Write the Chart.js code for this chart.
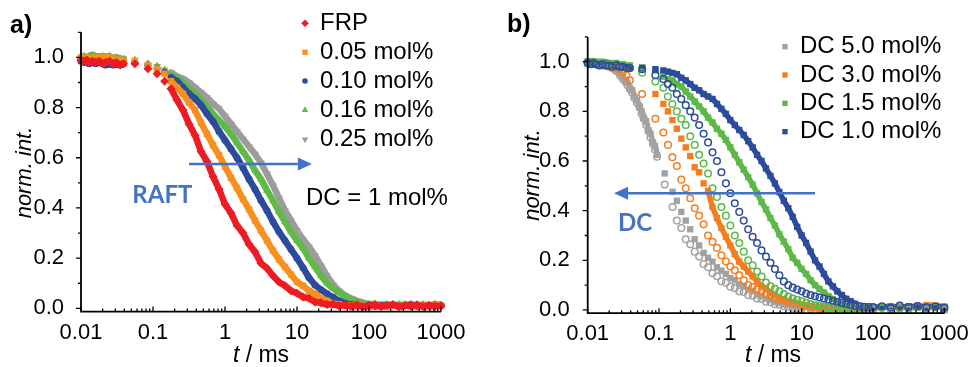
<!DOCTYPE html>
<html>
<head>
<meta charset="utf-8">
<title>Normalized intensity decays</title>
<script src="https://cdn.jsdelivr.net/npm/chart.js@4.4.1/dist/chart.umd.min.js"></script>
<style>
  html, body { margin: 0; padding: 0; background: #fff; }
  #wrap { position: relative; width: 972px; height: 367px; overflow: hidden; background: #fff; }
  canvas { position: absolute; top: 0; }
  #panelA { left: 0; }
  #panelB { left: 486px; }
</style>
</head>
<body>
<div id="wrap">
  <canvas id="panelA" width="486" height="367"></canvas>
  <canvas id="panelB" width="486" height="367"></canvas>
</div>
<script>
// ---------- panel a: RAFT agent content at DC = 1 mol% ----------
const tA = [0.010, 0.011, 0.012, 0.013, 0.0145, 0.016, 0.018, 0.020, 0.022, 0.025, 0.028, 0.031, 0.035, 0.039,
  0.056, 0.085, 0.114, 0.145, 0.178,
  0.2154, 0.261, 0.3162, 0.3831, 0.4642, 0.5623, 0.6813, 0.8254, 1, 1.212, 1.468, 1.778, 2.154, 2.61, 3.162,
  3.831, 4.642, 5.623, 6.813, 8.254, 10, 12.12, 14.68, 17.78, 21.54, 26.1, 31.62, 38.31, 46.42, 56.23, 68.13,
  82.54, 100, 121.2, 146.8, 177.8, 215.4, 261, 316.2, 383.1, 464.2, 562.3, 681.3, 825.4, 1000];

const frp = [0.99, 0.985, 0.99, 0.98, 0.985, 0.98, 0.985, 0.975, 0.98, 0.985, 0.975, 0.98, 0.97, 0.975,
  0.975, 0.955, 0.935, 0.905, 0.875,
  0.83, 0.79, 0.735, 0.69, 0.625, 0.585, 0.525, 0.475, 0.415, 0.38, 0.33, 0.3, 0.255, 0.225, 0.18,
  0.16, 0.13, 0.105, 0.09, 0.07, 0.06, 0.045, 0.04, 0.025, 0.022, 0.015, 0.016, 0.01, 0.012, 0.008, 0.014,
  0.006, 0.01, 0.013, 0.007, 0.011, 0.015, 0.006, 0.012, 0.009, 0.014, 0.007, 0.012, 0.008, 0.01];

const mol005 = [1.0, 0.995, 1.0, 0.99, 0.995, 1.0, 0.995, 1.0, 1.005, 1.0, 0.995, 0.99, 0.99, 0.985,
  0.985, 0.97, 0.955, 0.935, 0.905,
  0.88, 0.855, 0.82, 0.79, 0.74, 0.695, 0.65, 0.61, 0.565, 0.52, 0.48, 0.435, 0.395, 0.35, 0.31,
  0.27, 0.23, 0.195, 0.165, 0.135, 0.105, 0.09, 0.07, 0.058, 0.04, 0.03, 0.018, 0.016, 0.01, 0.012, 0.008,
  0.011, 0.007, 0.012, 0.009, 0.006, 0.011, 0.008, 0.013, 0.007, 0.01, 0.012, 0.008, 0.014, 0.01];

const mol010 = [0.985, 0.98, 0.985, 0.975, 0.98, 0.975, 0.98, 0.975, 0.97, 0.975, 0.97, 0.975, 0.97, 0.975,
  0.98, 0.97, 0.955, 0.94, 0.92,
  0.905, 0.88, 0.855, 0.835, 0.81, 0.775, 0.745, 0.705, 0.67, 0.635, 0.6, 0.56, 0.515, 0.475, 0.43,
  0.39, 0.345, 0.305, 0.27, 0.235, 0.2, 0.162, 0.122, 0.093, 0.074, 0.058, 0.044, 0.03, 0.02, 0.015, 0.011,
  0.01, 0.013, 0.008, 0.011, 0.009, 0.012, 0.007, 0.01, 0.013, 0.008, 0.011, 0.009, 0.014, 0.01];

const mol016 = [1.0, 1.005, 1.0, 1.005, 1.01, 1.005, 1.0, 1.005, 1.0, 1.005, 0.995, 1.0, 0.995, 0.99,
  0.99, 0.975, 0.965, 0.95, 0.93,
  0.92, 0.9, 0.875, 0.855, 0.83, 0.805, 0.775, 0.75, 0.725, 0.695, 0.66, 0.625, 0.59, 0.55, 0.515,
  0.47, 0.43, 0.385, 0.345, 0.305, 0.27, 0.24, 0.2, 0.165, 0.13, 0.1, 0.08, 0.062, 0.048, 0.036, 0.026,
  0.02, 0.015, 0.018, 0.012, 0.016, 0.011, 0.015, 0.013, 0.017, 0.012, 0.015, 0.011, 0.016, 0.013];

const mol025 = [1.0, 0.995, 1.0, 1.0, 0.995, 1.0, 1.005, 1.0, 0.995, 1.0, 1.0, 0.995, 0.99, 0.995,
  0.99, 0.97, 0.965, 0.95, 0.94,
  0.925, 0.915, 0.9, 0.88, 0.86, 0.84, 0.815, 0.795, 0.765, 0.735, 0.705, 0.675, 0.645, 0.615, 0.58,
  0.535, 0.49, 0.44, 0.39, 0.35, 0.31, 0.275, 0.245, 0.21, 0.17, 0.13, 0.095, 0.07, 0.052, 0.04, 0.03,
  0.023, 0.017, 0.013, 0.015, 0.011, 0.014, 0.01, 0.012, 0.015, 0.01, 0.013, 0.011, 0.014, 0.012];

const labelsA = ['FRP', '0.05 mol%', '0.10 mol%', '0.16 mol%', '0.25 mol%'];

// ---------- panel b: crosslinker (DC) content ----------
const tB = [0.010, 0.011, 0.012, 0.013, 0.0145, 0.016, 0.018, 0.020, 0.022, 0.025, 0.028, 0.031, 0.035, 0.039,
  0.058, 0.089, 0.115,
  0.1334, 0.154, 0.1778, 0.2054, 0.2371, 0.2738, 0.3162, 0.3652, 0.4217, 0.487, 0.5623, 0.6494, 0.7499, 0.866,
  1, 1.155, 1.334, 1.54, 1.778, 2.054, 2.371, 2.738, 3.162, 3.652, 4.217, 4.87, 5.623, 6.494, 7.499, 8.66,
  10, 11.55, 13.34, 15.4, 17.78, 20.54, 23.71, 27.38, 31.62, 36.52, 42.17, 48.7, 56.23, 64.94, 74.99, 86.6, 100,
  133.4, 177.8, 237.1, 316.2, 421.7, 562.3, 749.9, 1000];

// time grid of the DC 5.0 mol% runs (finer at short times)
const tB50 = [0.010, 0.011, 0.012, 0.013, 0.0145, 0.016, 0.018, 0.020, 0.022, 0.0245, 0.0265, 0.0285, 0.031, 0.0335,
  0.036, 0.039, 0.042, 0.045, 0.049, 0.053, 0.057, 0.061, 0.066, 0.071, 0.076, 0.082, 0.088, 0.094,
  0.12, 0.155,
  0.1778, 0.2054, 0.2371, 0.2738, 0.3162, 0.3652, 0.4217, 0.487, 0.5623, 0.6494, 0.7499, 0.866, 1, 1.155, 1.334,
  1.54, 1.778, 2.054, 2.371, 2.738, 3.162, 3.652, 4.217, 4.87, 5.623, 6.494, 7.499, 8.66, 10,
  13.34, 17.78, 23.71, 31.62, 42.17, 56.23, 74.99, 100, 177.8, 316.2, 562.3, 1000];

const dc50Sq = [1.0, 0.995, 1.0, 0.99, 0.995, 0.985, 0.99, 0.98, 0.98, 0.97, 0.965, 0.95, 0.94, 0.92,
  0.915, 0.895, 0.885, 0.86, 0.845, 0.815, 0.8, 0.775, 0.76, 0.725, 0.71, 0.675, 0.66, 0.625,
  0.55, 0.476,
  0.44, 0.395, 0.36, 0.325, 0.285, 0.26, 0.23, 0.21, 0.195, 0.172, 0.158, 0.145, 0.128, 0.12, 0.103,
  0.096, 0.082, 0.076, 0.062, 0.056, 0.046, 0.041, 0.032, 0.029, 0.022, 0.02, 0.015, 0.013, 0.009,
  0.006, 0.004, 0.003, 0.002, 0.001, 0.002, 0.0, 0.001, 0.0, 0.002, 0.001, 0.0];

const dc50Ci = [0.995, 1.0, 0.99, 0.995, 0.99, 0.99, 0.985, 0.985, 0.975, 0.965, 0.96, 0.945, 0.93, 0.925,
  0.905, 0.89, 0.875, 0.855, 0.835, 0.82, 0.79, 0.77, 0.745, 0.72, 0.695, 0.67, 0.645, 0.617,
  0.505, 0.415,
  0.36, 0.33, 0.285, 0.265, 0.235, 0.215, 0.185, 0.172, 0.148, 0.136, 0.116, 0.11, 0.094, 0.088, 0.075,
  0.072, 0.06, 0.057, 0.046, 0.044, 0.033, 0.031, 0.023, 0.021, 0.015, 0.013, 0.009, 0.008, 0.004,
  0.003, 0.002, 0.001, 0.0, 0.001, 0.0, 0.001, 0.0, 0.0, 0.001, 0.0, 0.0];

const dc30Sq = [0.995, 1.0, 0.995, 0.99, 0.995, 0.99, 0.995, 0.99, 0.99, 0.985, 0.985, 0.98, 0.98, 0.975,
  0.97, 0.87, 0.83,
  0.8, 0.765, 0.73, 0.69, 0.655, 0.62, 0.575, 0.555, 0.51, 0.48, 0.415, 0.37, 0.33, 0.295,
  0.26, 0.225, 0.195, 0.175, 0.155, 0.135, 0.115, 0.095, 0.085, 0.07, 0.06, 0.048, 0.042, 0.036, 0.03, 0.024,
  0.018, 0.014, 0.011, 0.008, 0.01, 0.007, 0.009, 0.006, 0.01, 0.008, 0.007, 0.011, 0.009, 0.006, 0.01, 0.008, 0.009,
  0.01, 0.012, 0.008, 0.015, 0.011, 0.02, 0.018, 0.013];

const dc30Ci = [0.995, 0.99, 0.995, 0.99, 0.99, 0.985, 0.985, 0.98, 0.98, 0.975, 0.97, 0.96, 0.945, 0.925,
  0.87, 0.77, 0.715,
  0.665, 0.615, 0.58, 0.525, 0.49, 0.45, 0.41, 0.38, 0.345, 0.3, 0.275, 0.25, 0.22, 0.195,
  0.175, 0.16, 0.14, 0.12, 0.1, 0.092, 0.083, 0.074, 0.065, 0.056, 0.048, 0.043, 0.038, 0.033, 0.028, 0.023,
  0.019, 0.016, 0.013, 0.011, 0.01, 0.008, 0.006, 0.009, 0.005, 0.007, 0.008, 0.006, 0.009, 0.007, 0.005, 0.008, 0.007,
  0.008, 0.012, 0.006, 0.01, 0.014, 0.009, 0.011, 0.007];

const dc15Sq = [1.0, 0.995, 1.0, 1.0, 0.995, 1.0, 0.995, 0.995, 0.99, 0.995, 0.99, 0.99, 0.985, 0.985,
  0.977, 0.965, 0.94,
  0.93, 0.925, 0.91, 0.9, 0.88, 0.86, 0.84, 0.82, 0.8, 0.775, 0.755, 0.73, 0.71, 0.685,
  0.655, 0.625, 0.595, 0.565, 0.535, 0.505, 0.47, 0.435, 0.405, 0.37, 0.34, 0.305, 0.275, 0.245, 0.21, 0.19,
  0.165, 0.145, 0.12, 0.1, 0.085, 0.07, 0.056, 0.044, 0.033, 0.023, 0.017, 0.013, 0.01, 0.012, 0.009, 0.011, 0.01,
  0.012, 0.01, 0.014, 0.011, 0.009, 0.013, 0.016, 0.012];

const dc15Ci = [1.0, 0.995, 1.0, 0.995, 0.995, 0.99, 0.995, 0.99, 0.99, 0.985, 0.985, 0.98, 0.98, 0.975,
  0.956, 0.92, 0.895,
  0.86, 0.83, 0.8, 0.77, 0.745, 0.7, 0.665, 0.625, 0.59, 0.55, 0.49, 0.455, 0.415, 0.38,
  0.34, 0.3, 0.27, 0.235, 0.2, 0.18, 0.155, 0.135, 0.11, 0.095, 0.085, 0.075, 0.064, 0.054, 0.046, 0.041,
  0.035, 0.029, 0.024, 0.019, 0.016, 0.014, 0.011, 0.009, 0.012, 0.008, 0.01, 0.011, 0.007, 0.01, 0.009, 0.012, 0.008,
  0.01, 0.013, 0.008, 0.011, 0.015, 0.009, 0.012, 0.01];

const dc10Sq = [0.995, 1.0, 0.995, 0.99, 0.995, 0.99, 0.995, 0.99, 0.985, 0.99, 0.985, 0.98, 0.98, 0.975,
  0.975, 0.97, 0.965,
  0.96, 0.955, 0.95, 0.935, 0.925, 0.91, 0.895, 0.885, 0.87, 0.86, 0.85, 0.83, 0.81, 0.79,
  0.765, 0.745, 0.725, 0.705, 0.68, 0.655, 0.625, 0.6, 0.57, 0.54, 0.51, 0.475, 0.44, 0.41, 0.375, 0.335,
  0.3, 0.27, 0.235, 0.2, 0.175, 0.145, 0.115, 0.095, 0.075, 0.06, 0.045, 0.035, 0.025, 0.017, 0.012, 0.01, 0.011,
  0.012, 0.015, 0.01, 0.013, 0.016, 0.011, 0.014, 0.012];

const dc10Ci = [0.995, 0.99, 0.995, 0.99, 0.985, 0.99, 0.985, 0.985, 0.98, 0.985, 0.98, 0.98, 0.975, 0.975,
  0.97, 0.946, 0.93,
  0.91, 0.895, 0.87, 0.85, 0.825, 0.8, 0.775, 0.745, 0.71, 0.675, 0.635, 0.6, 0.555, 0.51,
  0.47, 0.43, 0.395, 0.36, 0.325, 0.295, 0.27, 0.24, 0.215, 0.19, 0.165, 0.14, 0.115, 0.1, 0.09, 0.082,
  0.075, 0.066, 0.06, 0.055, 0.05, 0.046, 0.042, 0.037, 0.033, 0.028, 0.024, 0.02, 0.016, 0.014, 0.013, 0.012, 0.012,
  0.015, 0.01, 0.018, 0.012, 0.016, 0.011, 0.014, 0.009];

const labelsB = ['DC 5.0 mol%', 'DC 3.0 mol%', 'DC 1.5 mol%', 'DC 1.0 mol%'];

// ---------- axes ----------
const xTickValues = [0.01, 0.1, 1, 10, 100, 1000];
const yTickValues = [0, 0.2, 0.4, 0.6, 0.8, 1.0];
const yMinorValues = [0.1, 0.3, 0.5, 0.7, 0.9, 1.1];

// ---------- styling ----------
const FONT = "'Liberation Sans', Arial, sans-serif";
const ACCENT = '#4472c4';
const W = 486, H = 367;

Chart.defaults.font.family = FONT;
Chart.defaults.color = '#000';

function points(ts, ys) { return ts.map((x, i) => ({ x: x, y: ys[i] })); }

// line segments are only drawn where the sampling is dense, so the markers merge into a band
function bandSegments(ranges) {
  return ctx => {
    const a = ctx.p0.parsed.x, b = ctx.p1.parsed.x;
    return ranges.some(r => a >= r[0] && b <= r[1]) ? undefined : 'rgba(0,0,0,0)';
  };
}

function filled(ts, ys, color, style, r, extra) {
  return Object.assign({
    data: points(ts, ys),
    showLine: false,
    borderColor: color,
    backgroundColor: color,
    pointStyle: style,
    pointRadius: r,
    pointBorderWidth: 0,
    pointBackgroundColor: color,
    pointBorderColor: color,
    clip: false
  }, extra || {});
}

function banded(ts, ys, color, style, r, width, ranges, extra) {
  return filled(ts, ys, color, style, r, Object.assign({
    showLine: true,
    borderWidth: width,
    borderJoinStyle: 'round',
    borderCapStyle: 'round',
    segment: { borderColor: bandSegments(ranges) }
  }, extra || {}));
}

function hollow(ts, ys, color, r) {
  return {
    data: points(ts, ys),
    showLine: false,
    borderColor: color,
    backgroundColor: 'rgba(0,0,0,0)',
    pointStyle: 'circle',
    pointRadius: r,
    pointBorderWidth: 1.5,
    pointBackgroundColor: 'rgba(0,0,0,0)',
    pointBorderColor: color,
    clip: false
  };
}

// ---------- drawing helpers ----------
function drawMarker(ctx, style, x, y, r, color, rot) {
  ctx.save();
  ctx.fillStyle = color;
  ctx.beginPath();
  if (style === 'rectRot') {
    ctx.moveTo(x, y - r); ctx.lineTo(x + r, y); ctx.lineTo(x, y + r); ctx.lineTo(x - r, y);
  } else if (style === 'rect') {
    const s = r * Math.SQRT1_2;
    ctx.rect(x - s, y - s, 2 * s, 2 * s);
  } else if (style === 'circle') {
    ctx.arc(x, y, r, 0, Math.PI * 2);
  } else if (style === 'triangle') {
    const k = rot ? -1 : 1, h = r * Math.sin(Math.PI / 3);
    ctx.moveTo(x, y - k * r); ctx.lineTo(x + h, y + k * r / 2); ctx.lineTo(x - h, y + k * r / 2);
  }
  ctx.closePath();
  ctx.fill();
  ctx.restore();
}

function drawText(ctx, str, x, y, font, color, align) {
  ctx.save();
  ctx.font = font;
  ctx.fillStyle = color;
  ctx.textAlign = align || 'left';
  ctx.textBaseline = 'middle';
  ctx.fillText(str, x, y);
  ctx.restore();
}

function drawArrow(ctx, x1, y, x2, color) {
  const head = 14, half = 6.5, dir = Math.sign(x2 - x1);
  ctx.save();
  ctx.strokeStyle = color; ctx.fillStyle = color; ctx.lineWidth = 2.6;
  ctx.beginPath(); ctx.moveTo(x1, y); ctx.lineTo(x2 - dir * head, y); ctx.stroke();
  ctx.beginPath();
  ctx.moveTo(x2, y); ctx.lineTo(x2 - dir * head, y - half); ctx.lineTo(x2 - dir * head, y + half);
  ctx.closePath(); ctx.fill();
  ctx.restore();
}

function drawXTitle(ctx, cx, cy) {
  ctx.save();
  const fi = 'italic 23px ' + FONT, fn = '23px ' + FONT;
  ctx.font = fi; const w1 = ctx.measureText('t').width;
  ctx.font = fn; const w2 = ctx.measureText(' / ms').width;
  const x0 = cx - (w1 + w2) / 2;
  ctx.fillStyle = '#000'; ctx.textAlign = 'left'; ctx.textBaseline = 'middle';
  ctx.font = fi; ctx.fillText('t', x0, cy);
  ctx.font = fn; ctx.fillText(' / ms', x0 + w1, cy);
  ctx.restore();
}

function drawYTitle(ctx, cx, cy) {
  ctx.save();
  ctx.translate(cx, cy);
  ctx.rotate(-Math.PI / 2);
  ctx.font = 'italic 22px ' + FONT;
  ctx.fillStyle = '#000'; ctx.textAlign = 'center'; ctx.textBaseline = 'middle';
  ctx.fillText('norm. int.', 0, 0);
  ctx.restore();
}

// frame, tick marks, legend and annotations of one panel
function panelDecor(p) {
  return {
    id: 'panelDecor',
    afterDraw(chart) {
      const ctx = chart.ctx, a = chart.chartArea, xs = chart.scales.x, ys = chart.scales.y;
      ctx.save();
      ctx.strokeStyle = '#000';
      ctx.lineWidth = 1.8;
      ctx.beginPath();
      ctx.moveTo(a.left, a.top); ctx.lineTo(a.left, a.bottom); ctx.lineTo(a.right, a.bottom);
      ctx.stroke();
      ctx.lineWidth = 1.3;
      ctx.beginPath();
      yTickValues.forEach(v => { const py = ys.getPixelForValue(v); ctx.moveTo(a.left - 5, py); ctx.lineTo(a.left, py); });
      yMinorValues.forEach(v => { const py = ys.getPixelForValue(v); ctx.moveTo(a.left - 3, py); ctx.lineTo(a.left, py); });
      xTickValues.forEach(d => {
        const px = xs.getPixelForValue(d);
        ctx.moveTo(px, a.bottom); ctx.lineTo(px, a.bottom - 5);
        if (d < 1000) {
          for (let m = 2; m <= 9; m++) {
            const q = xs.getPixelForValue(d * m);
            ctx.moveTo(q, a.bottom); ctx.lineTo(q, a.bottom - 3);
          }
        }
      });
      ctx.stroke();
      ctx.restore();

      // panel tag and axis titles
      drawText(ctx, p.tag, p.tagAt[0], p.tagAt[1], 'bold 25px ' + FONT, '#000');
      drawYTitle(ctx, p.yTitleAt[0], p.yTitleAt[1]);
      drawXTitle(ctx, p.xTitleAt[0], p.xTitleAt[1]);

      // legend
      p.legend.items.forEach((it, i) => {
        const y = p.legend.rows[i];
        drawMarker(ctx, it.style, p.legend.markerX, y, it.r, it.color, it.rot);
        drawText(ctx, it.label, p.legend.textX, y, '24px ' + FONT, '#000');
      });

      // trend arrow and notes
      const ay = ys.getPixelForValue(p.arrow.y);
      drawArrow(ctx, xs.getPixelForValue(p.arrow.from), ay, xs.getPixelForValue(p.arrow.to), ACCENT);
      p.notes.forEach(n => {
        drawText(ctx, n.text, xs.getPixelForValue(n.x), ys.getPixelForValue(n.y), n.font, n.color, n.align);
      });
    }
  };
}

function makeChart(canvasId, datasets, p) {
  const b = p.box;
  return new Chart(document.getElementById(canvasId), {
    type: 'scatter',
    data: { datasets: datasets },
    options: {
      responsive: false,
      animation: false,
      events: [],
      layout: { padding: { left: 0, top: b.top, right: W - b.right, bottom: 0 } },
      plugins: { legend: { display: false }, tooltip: { enabled: false } },
      scales: {
        x: {
          type: 'logarithmic', min: 0.01, max: 1000,
          grid: { display: false }, border: { display: false },
          afterBuildTicks: s => { s.ticks = xTickValues.map(v => ({ value: v })); },
          afterFit: s => { s.height = H - b.bottom; },
          ticks: { autoSkip: false, maxRotation: 0, padding: 0, color: '#000', font: { size: 22 },
                   callback: v => String(v) }
        },
        y: {
          type: 'linear', min: -0.013, max: 1.1,
          grid: { display: false }, border: { display: false },
          afterBuildTicks: s => { s.ticks = yTickValues.map(v => ({ value: v })); },
          afterFit: s => { s.width = b.left; },
          ticks: { autoSkip: false, padding: b.labelGap, color: '#000', font: { size: 22 },
                   callback: v => Number(v).toFixed(1) }
        }
      }
    },
    plugins: [panelDecor(p)]
  });
}

// ---------- panel a ----------
const colA = { red: '#ec1c24', orange: '#f7901e', blue: '#2e4a9e', green: '#5fba46', gray: '#9c9c9c' };
const bandA = [[0.009, 0.04], [0.17, 1001]];

const datasetsA = [
  banded(tA, frp, colA.red, 'rectRot', 4.5, 6.5, bandA),
  banded(tA, mol005, colA.orange, 'rect', 4.5, 6.5, bandA),
  banded(tA, mol010, colA.blue, 'circle', 3.5, 6.5, bandA),
  banded(tA, mol016, colA.green, 'triangle', 4.5, 6.5, bandA),
  banded(tA, mol025, colA.gray, 'triangle', 4.5, 6.5, bandA, { pointRotation: 180 })
];

makeChart('panelA', datasetsA, {
  box: { left: 81, right: 441, top: 32.3, bottom: 311.6, labelGap: 9 },
  tag: 'a)', tagAt: [10, 26],
  yTitleAt: [25, 172.5], xTitleAt: [261, 356],
  legend: {
    markerX: 305, textX: 320, rows: [23.3, 52.3, 81, 110, 139.5],
    items: [
      { label: labelsA[0], style: 'rectRot', r: 3.8, color: colA.red },
      { label: labelsA[1], style: 'rect', r: 3.8, color: colA.orange },
      { label: labelsA[2], style: 'circle', r: 2.8, color: colA.blue },
      { label: labelsA[3], style: 'triangle', r: 3.8, color: colA.green },
      { label: labelsA[4], style: 'triangle', r: 3.8, color: colA.gray, rot: true }
    ]
  },
  arrow: { from: 0.316, to: 16.1, y: 0.575 },
  notes: [
    { text: 'RAFT', x: 0.135, y: 0.452, font: 'bold 24px Lato, ' + FONT, color: ACCENT, align: 'center' },
    { text: 'DC = 1 mol%', x: 13.3, y: 0.44, font: '24px ' + FONT, color: '#000', align: 'left' }
  ]
});

// ---------- panel b ----------
const colB = { gray: '#a2a2a2', orange: '#f47d20', green: '#5cb947', blue: '#2d4b9d' };

const datasetsB = [
  hollow(tB, dc10Ci, colB.blue, 3.3),
  hollow(tB, dc15Ci, colB.green, 3.3),
  hollow(tB, dc30Ci, colB.orange, 3.3),
  hollow(tB50, dc50Ci, colB.gray, 3.3),
  banded(tB, dc10Sq, colB.blue, 'rect', 4.5, 5.5, [[0.009, 0.04], [0.13, 1001]]),
  banded(tB, dc15Sq, colB.green, 'rect', 4.5, 5.5, [[0.009, 0.04], [0.13, 1001]]),
  banded(tB, dc30Sq, colB.orange, 'rect', 4.5, 5.5, [[0.009, 0.04], [0.45, 1001]]),
  banded(tB50, dc50Sq, colB.gray, 'rect', 4.5, 5, [[0.009, 0.1]])
];

makeChart('panelB', datasetsB, {
  box: { left: 101.7, right: 458.3, top: 36.9, bottom: 313.2, labelGap: 10 },
  tag: 'b)', tagAt: [21, 25],
  yTitleAt: [47, 175], xTitleAt: [287, 356],
  legend: {
    markerX: 299, textX: 314, rows: [46.7, 75, 103.3, 131.7],
    items: [
      { label: labelsB[0], style: 'rect', r: 3.8, color: colB.gray },
      { label: labelsB[1], style: 'rect', r: 3.8, color: colB.orange },
      { label: labelsB[2], style: 'rect', r: 3.8, color: colB.green },
      { label: labelsB[3], style: 'rect', r: 3.8, color: colB.blue }
    ]
  },
  arrow: { from: 15.4, to: 0.0234, y: 0.47 },
  notes: [
    { text: 'DC', x: 0.046, y: 0.35, font: 'bold 24px Lato, ' + FONT, color: ACCENT, align: 'center' }
  ]
});
</script>
</body>
</html>
